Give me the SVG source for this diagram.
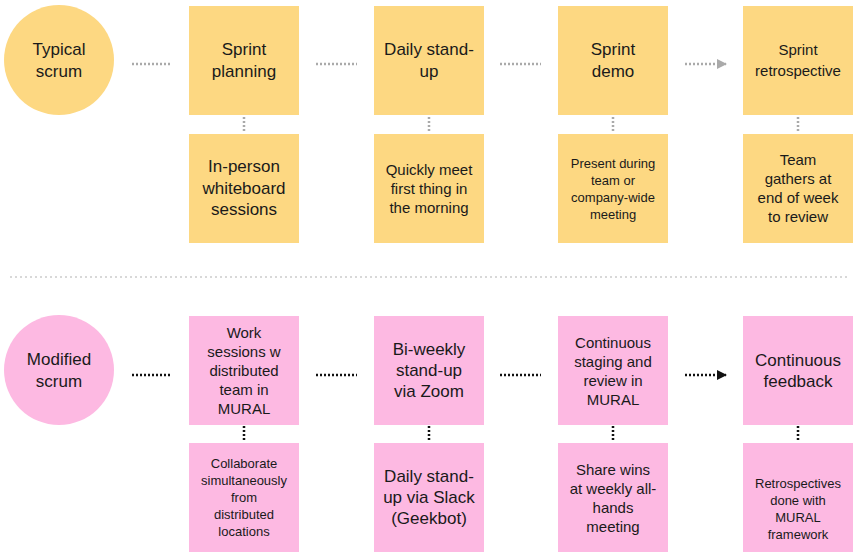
<svg xmlns="http://www.w3.org/2000/svg" width="857" height="554" viewBox="0 0 857 554">
<style>
.y{fill:#FDD882}.p{fill:#FDB9E2}
text{font-family:"Liberation Sans",Arial,sans-serif;fill:#1a1a1a;text-anchor:middle}
.t{font-size:17px}.s{font-size:15px}.xs{font-size:13px}
.ga{stroke:#aaa;stroke-width:2.5;stroke-dasharray:2 2;fill:none}
.ka{stroke:#111;stroke-width:2.5;stroke-dasharray:2 2;fill:none}
</style>
<defs>
<marker id="mg" viewBox="0 0 10 10" refX="9" refY="5" markerWidth="4" markerHeight="4" orient="auto"><path d="M0,0L10,5L0,10z" fill="#aaa"/></marker>
<marker id="mk" viewBox="0 0 10 10" refX="9" refY="5" markerWidth="4" markerHeight="4" orient="auto"><path d="M0,0L10,5L0,10z" fill="#111"/></marker>
</defs>
<line x1="10" y1="277" x2="850" y2="277" stroke="#ccc" stroke-width="1.5" stroke-dasharray="2 3"/>
<g id="connectors">
<path class="ga" d="M132 64H172M316 64H357M500 64H541M685 64H726" marker-end="url(#mg)"/>
<path class="ga" d="M244 117V133M429 117V133M613 117V133M798 117V133"/>
<path class="ka" d="M132 375H172M316 375H357M500 375H541M685 375H726" marker-end="url(#mk)"/>
<path class="ka" d="M244 426V442M429 426V442M613 426V442M798 426V442"/>
</g>
<g id="typical"><circle class="y" cx="59" cy="60" r="55"/><text class="t" x="59" y="55">Typical</text><text class="t" x="59" y="77">scrum</text></g>
<g id="n1"><rect class="y" x="189" y="6" width="110" height="109"/><text class="t" x="244" y="55">Sprint</text><text class="t" x="244" y="77">planning</text></g>
<g id="n2"><rect class="y" x="374" y="6" width="110" height="109"/><text class="t" x="429" y="55">Daily stand-</text><text class="t" x="429" y="77">up</text></g>
<g id="n3"><rect class="y" x="558" y="6" width="110" height="109"/><text class="t" x="613" y="55">Sprint</text><text class="t" x="613" y="77">demo</text></g>
<g id="n4"><rect class="y" x="743" y="6" width="110" height="109"/><text class="s" x="798" y="55">Sprint</text><text class="s" x="798" y="76">retrospective</text></g>
<g id="n5"><rect class="y" x="189" y="134" width="110" height="109"/><text class="t" x="244" y="172">In-person</text><text class="t" x="244" y="194">whiteboard</text><text class="t" x="244" y="215">sessions</text></g>
<g id="n6"><rect class="y" x="374" y="134" width="110" height="109"/><text class="s" x="429" y="175">Quickly meet</text><text class="s" x="429" y="194">first thing in</text><text class="s" x="429" y="213">the morning</text></g>
<g id="n7"><rect class="y" x="558" y="134" width="110" height="109"/><text class="xs" x="613" y="168">Present during</text><text class="xs" x="613" y="185">team or</text><text class="xs" x="613" y="202">company-wide</text><text class="xs" x="613" y="219">meeting</text></g>
<g id="n8"><rect class="y" x="743" y="134" width="110" height="109"/><text class="s" x="798" y="165">Team</text><text class="s" x="798" y="184">gathers at</text><text class="s" x="798" y="203">end of week</text><text class="s" x="798" y="222">to review</text></g>
<g id="modified"><circle class="p" cx="59" cy="370" r="55"/><text class="t" x="59" y="365">Modified</text><text class="t" x="59" y="387">scrum</text></g>
<g id="m1"><rect class="p" x="189" y="316" width="110" height="109"/><text class="s" x="244" y="338">Work</text><text class="s" x="244" y="357">sessions w</text><text class="s" x="244" y="376">distributed</text><text class="s" x="244" y="395">team in</text><text class="s" x="244" y="414">MURAL</text></g>
<g id="m2"><rect class="p" x="374" y="316" width="110" height="109"/><text class="t" x="429" y="355">Bi-weekly</text><text class="t" x="429" y="376">stand-up</text><text class="t" x="429" y="397">via Zoom</text></g>
<g id="m3"><rect class="p" x="558" y="316" width="110" height="109"/><text class="s" x="613" y="348">Continuous</text><text class="s" x="613" y="367">staging and</text><text class="s" x="613" y="386">review in</text><text class="s" x="613" y="405">MURAL</text></g>
<g id="m4"><rect class="p" x="743" y="316" width="110" height="109"/><text class="t" x="798" y="366">Continuous</text><text class="t" x="798" y="387">feedback</text></g>
<g id="m5"><rect class="p" x="189" y="443" width="110" height="109"/><text class="xs" x="244" y="468">Collaborate</text><text class="xs" x="244" y="485">simultaneously</text><text class="xs" x="244" y="502">from</text><text class="xs" x="244" y="519">distributed</text><text class="xs" x="244" y="536">locations</text></g>
<g id="m6"><rect class="p" x="374" y="443" width="110" height="109"/><text class="t" x="429" y="482">Daily stand-</text><text class="t" x="429" y="503">up via Slack</text><text class="t" x="429" y="524">(Geekbot)</text></g>
<g id="m7"><rect class="p" x="558" y="443" width="110" height="109"/><text class="s" x="613" y="475">Share wins</text><text class="s" x="613" y="494">at weekly all-</text><text class="s" x="613" y="513">hands</text><text class="s" x="613" y="532">meeting</text></g>
<g id="m8"><rect class="p" x="743" y="443" width="110" height="109"/><text class="xs" x="798" y="488">Retrospectives</text><text class="xs" x="798" y="505">done with</text><text class="xs" x="798" y="522">MURAL</text><text class="xs" x="798" y="539">framework</text></g>
</svg>
